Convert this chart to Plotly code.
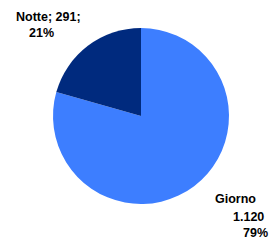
import plotly.graph_objects as go

labels = ["Giorno", "Notte"]
values = [1120, 291]
value_text = ["1.120", "291"]
pct_text = ["79%", "21%"]
colors = ["#3D7EFF", "#002A7E"]

W, H = 274, 240

fig = go.Figure(go.Pie(
    labels=labels, values=values, sort=False, direction="clockwise", rotation=0,
    marker=dict(colors=colors, line=dict(width=0)),
    textinfo="none", hoverinfo="label+value+percent",
    domain=dict(x=[(141-88)/W, (141+88)/W], y=[(240-116-88)/H, (240-116+88)/H]),
    showlegend=False,
))

font = dict(family="Liberation Sans", size=12.5, color="#000000")

def px(x, y):
    return x / W, 1 - y / H

anns = []
line_sets = [
    ([(48, 17), (41, 33)], [f"{labels[1]}; {value_text[1]};", pct_text[1]]),
    ([(235, 199), (249, 217), (255, 233)], [labels[0], value_text[0], pct_text[0]]),
]
for positions, texts in line_sets:
    for (cx, cy), t in zip(positions, texts):
        x, y = px(cx, cy)
        anns.append(dict(x=x, y=y, text=f"<b>{t}</b>", showarrow=False, xref="paper", yref="paper",
                         font=font, xanchor="center", yanchor="middle"))

fig.update_layout(width=W, height=H, margin=dict(l=0, r=0, t=0, b=0),
                  paper_bgcolor="white", plot_bgcolor="white", annotations=anns)
fig.write_html("out.html", config={"displayModeBar": False},
               post_script="document.body.style.margin='0';document.body.style.overflow='hidden';")
